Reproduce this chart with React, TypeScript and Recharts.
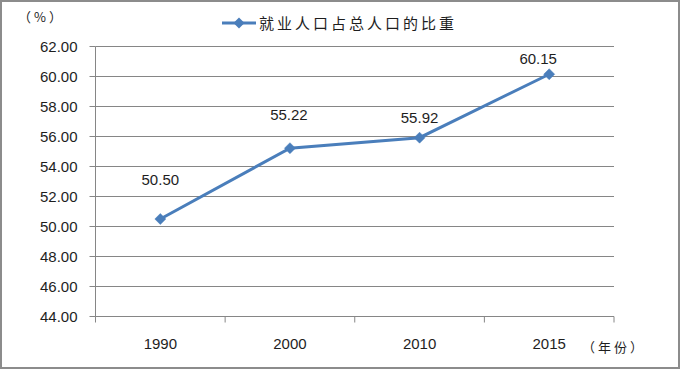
import React from "react";
import { LineChart, Line, XAxis, YAxis, CartesianGrid, Legend, LabelList } from "recharts";

const years = ["1990", "2000", "2010", "2015"];
const shares = [50.5, 55.22, 55.92, 60.15];
const yTicks = [44, 46, 48, 50, 52, 54, 56, 58, 60, 62];
const seriesName = "就业人口占总人口的比重";

const data = years.map((y, i) => ({ year: y, pos: i + 0.5, value: shares[i] }));
const xTicks = Array.from({ length: years.length * 2 + 1 }, (_, k) => k / 2);

const LINE_COLOR = "#4A7EBB";
const AXIS_COLOR = "#868686";
const TEXT_COLOR = "#1e1e1e";
const NUM_FONT = "'Liberation Sans', Arial, sans-serif";
const CJK_FONT = "'Noto Sans CJK SC', sans-serif";
// label nudges (dx, dy) relative to each point, as in the reference
const labelNudges = [
  [0, -39],
  [-1, -33],
  [0, -20],
  [-11, -16],
];

const Diamond = (props: any) => {
  const { cx, cy } = props;
  if (cx == null || cy == null) return null;
  const r = 5.5;
  return (
    <polygon
      points={`${cx},${cy - r} ${cx + r},${cy} ${cx},${cy + r} ${cx - r},${cy}`}
      fill={LINE_COLOR}
      stroke={LINE_COLOR}
      strokeWidth={0.5}
    />
  );
};

const XTick = (props: any) => {
  const { x, y, payload } = props;
  const v = payload.value as number;
  if (Number.isInteger(v)) {
    return <line x1={x} y1={y} x2={x} y2={y + 6} stroke={AXIS_COLOR} strokeWidth={1} />;
  }
  const label = years[Math.floor(v)];
  return (
    <text x={x} y={y + 27} dy="0.35em" textAnchor="middle" fontSize={15} fontFamily={NUM_FONT} fill={TEXT_COLOR}>
      {label}
    </text>
  );
};

const PointLabel = (props: any) => {
  const { x, y, value, index } = props;
  const [dx, dy] = labelNudges[index] || [0, -20];
  return (
    <text x={x + dx} y={y + dy} dy="0.35em" textAnchor="middle" fontSize={15} fontFamily={NUM_FONT} fill={TEXT_COLOR}>
      {Number(value).toFixed(2)}
    </text>
  );
};

const LegendContent = () => (
  <div style={{ display: "flex", alignItems: "center", height: 26 }}>
    <svg width={34} height={12} style={{ display: "block" }}>
      <line x1={0} y1={6} x2={34} y2={6} stroke={LINE_COLOR} strokeWidth={3} />
      <polygon points="17,0.5 22.5,6 17,11.5 11.5,6" fill={LINE_COLOR} />
    </svg>
    <span
      style={{
        marginLeft: 3,
        fontFamily: CJK_FONT,
        fontSize: 15,
        letterSpacing: 3,
        color: TEXT_COLOR,
        whiteSpace: "nowrap",
        lineHeight: "26px",
      }}
    >
      {seriesName}
    </span>
  </div>
);

export default function App() {
  return (
    <div style={{ position: "absolute", left: 0, top: 0, width: 682, height: 370, background: "#fff" }}>
      <div
        style={{
          position: "absolute",
          left: 0,
          top: 0,
          width: 680,
          height: 369,
          boxSizing: "border-box",
          border: "2px solid #8c8c8c",
        }}
      />
      <LineChart
        width={682}
        height={370}
        data={data}
        margin={{ top: 10.5, right: 68, left: 0.5, bottom: 23.5 }}
        style={{ position: "absolute", left: 0, top: 0 }}
      >
        <CartesianGrid vertical={false} stroke={AXIS_COLOR} strokeWidth={1} />
        <XAxis
          type="number"
          dataKey="pos"
          domain={[0, years.length]}
          ticks={xTicks}
          interval={0}
          tickSize={0}
          tickMargin={0}
          tickLine={false}
          axisLine={{ stroke: AXIS_COLOR }}
          tick={<XTick />}
          height={30}
        />
        <YAxis
          type="number"
          domain={[44, 62]}
          ticks={yTicks}
          interval={0}
          width={95}
          tickSize={6}
          tickMargin={12}
          tickLine={{ stroke: AXIS_COLOR }}
          axisLine={{ stroke: AXIS_COLOR }}
          tickFormatter={(v: number) => v.toFixed(2)}
          tick={{ fontSize: 15, fontFamily: NUM_FONT, fill: TEXT_COLOR }}
        />
        <Legend
          verticalAlign="top"
          content={<LegendContent />}
          wrapperStyle={{ position: "absolute", left: 222, top: 10, width: 240, height: 36 }}
        />
        <Line
          type="linear"
          dataKey="value"
          name={seriesName}
          stroke={LINE_COLOR}
          strokeWidth={3}
          dot={<Diamond />}
          activeDot={false}
          isAnimationActive={false}
        >
          <LabelList dataKey="value" content={<PointLabel />} />
        </Line>
      </LineChart>
      <div
        style={{
          position: "absolute",
          left: 18,
          top: 7,
          fontFamily: CJK_FONT,
          fontSize: 13,
          letterSpacing: 3,
          color: TEXT_COLOR,
          lineHeight: "20px",
          whiteSpace: "nowrap",
        }}
      >
        （%）
      </div>
      <div
        style={{
          position: "absolute",
          left: 582,
          top: 337,
          fontFamily: CJK_FONT,
          fontSize: 13,
          letterSpacing: 3,
          color: TEXT_COLOR,
          lineHeight: "20px",
          whiteSpace: "nowrap",
        }}
      >
        （年份）
      </div>
    </div>
  );
}
